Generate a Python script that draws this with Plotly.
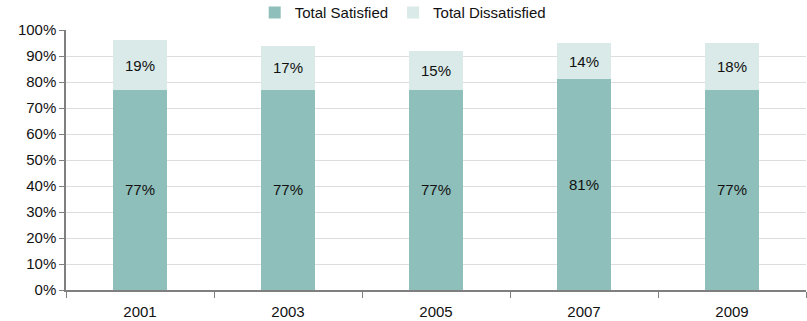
import plotly.graph_objects as go

years = ["2001", "2003", "2005", "2007", "2009"]
satisfied = [77, 77, 77, 81, 77]
dissatisfied = [19, 17, 15, 14, 18]
y_ticks = list(range(0, 101, 10))

font = "Liberation Sans, Arial, sans-serif"

fig = go.Figure()
fig.add_trace(go.Bar(
    x=years, y=satisfied, name="Total Satisfied",
    marker=dict(color="#8FBFBA", line=dict(width=0)),
    text=[f"{v}%" for v in satisfied], textposition="inside",
    insidetextanchor="middle", textfont=dict(color="#111111", size=15, family=font),
    width=0.365,
))
fig.add_trace(go.Bar(
    x=years, y=dissatisfied, name="Total Dissatisfied",
    marker=dict(color="#D9EAE8", line=dict(width=0)),
    text=[f"{v}%" for v in dissatisfied], textposition="inside",
    insidetextanchor="middle", textfont=dict(color="#111111", size=15, family=font),
    width=0.365,
))

fig.update_layout(
    barmode="stack",
    width=807, height=321,
    margin=dict(l=66, r=1, t=30, b=31, autoexpand=False),
    paper_bgcolor="white", plot_bgcolor="white",
    font=dict(family=font, size=15, color="#111111"),
    uniformtext=dict(minsize=15, mode="show"),
    legend=dict(orientation="h", x=0.455, xanchor="center", y=1.066, yanchor="middle",
                font=dict(size=15), itemwidth=30, traceorder="normal",
                bgcolor="rgba(0,0,0,0)", borderwidth=0),
    showlegend=True,
)
fig.update_xaxes(
    type="category", tickson="boundaries", ticks="outside", ticklen=6,
    tickcolor="#7F7F7F", showline=True, linecolor="#7F7F7F", linewidth=1.5,
    showgrid=False, tickfont=dict(size=15), ticklabelstandoff=7,
)
fig.update_yaxes(
    range=[0, 100], tickvals=y_ticks, ticktext=[f"{v}%" for v in y_ticks],
    ticks="outside", ticklen=5, tickcolor="#7F7F7F",
    showline=True, linecolor="#7F7F7F", linewidth=1.5,
    showgrid=True, gridcolor="#DDDDDD", gridwidth=1,
    tickfont=dict(size=15), zeroline=False,
)

fig.write_html("out.html")
